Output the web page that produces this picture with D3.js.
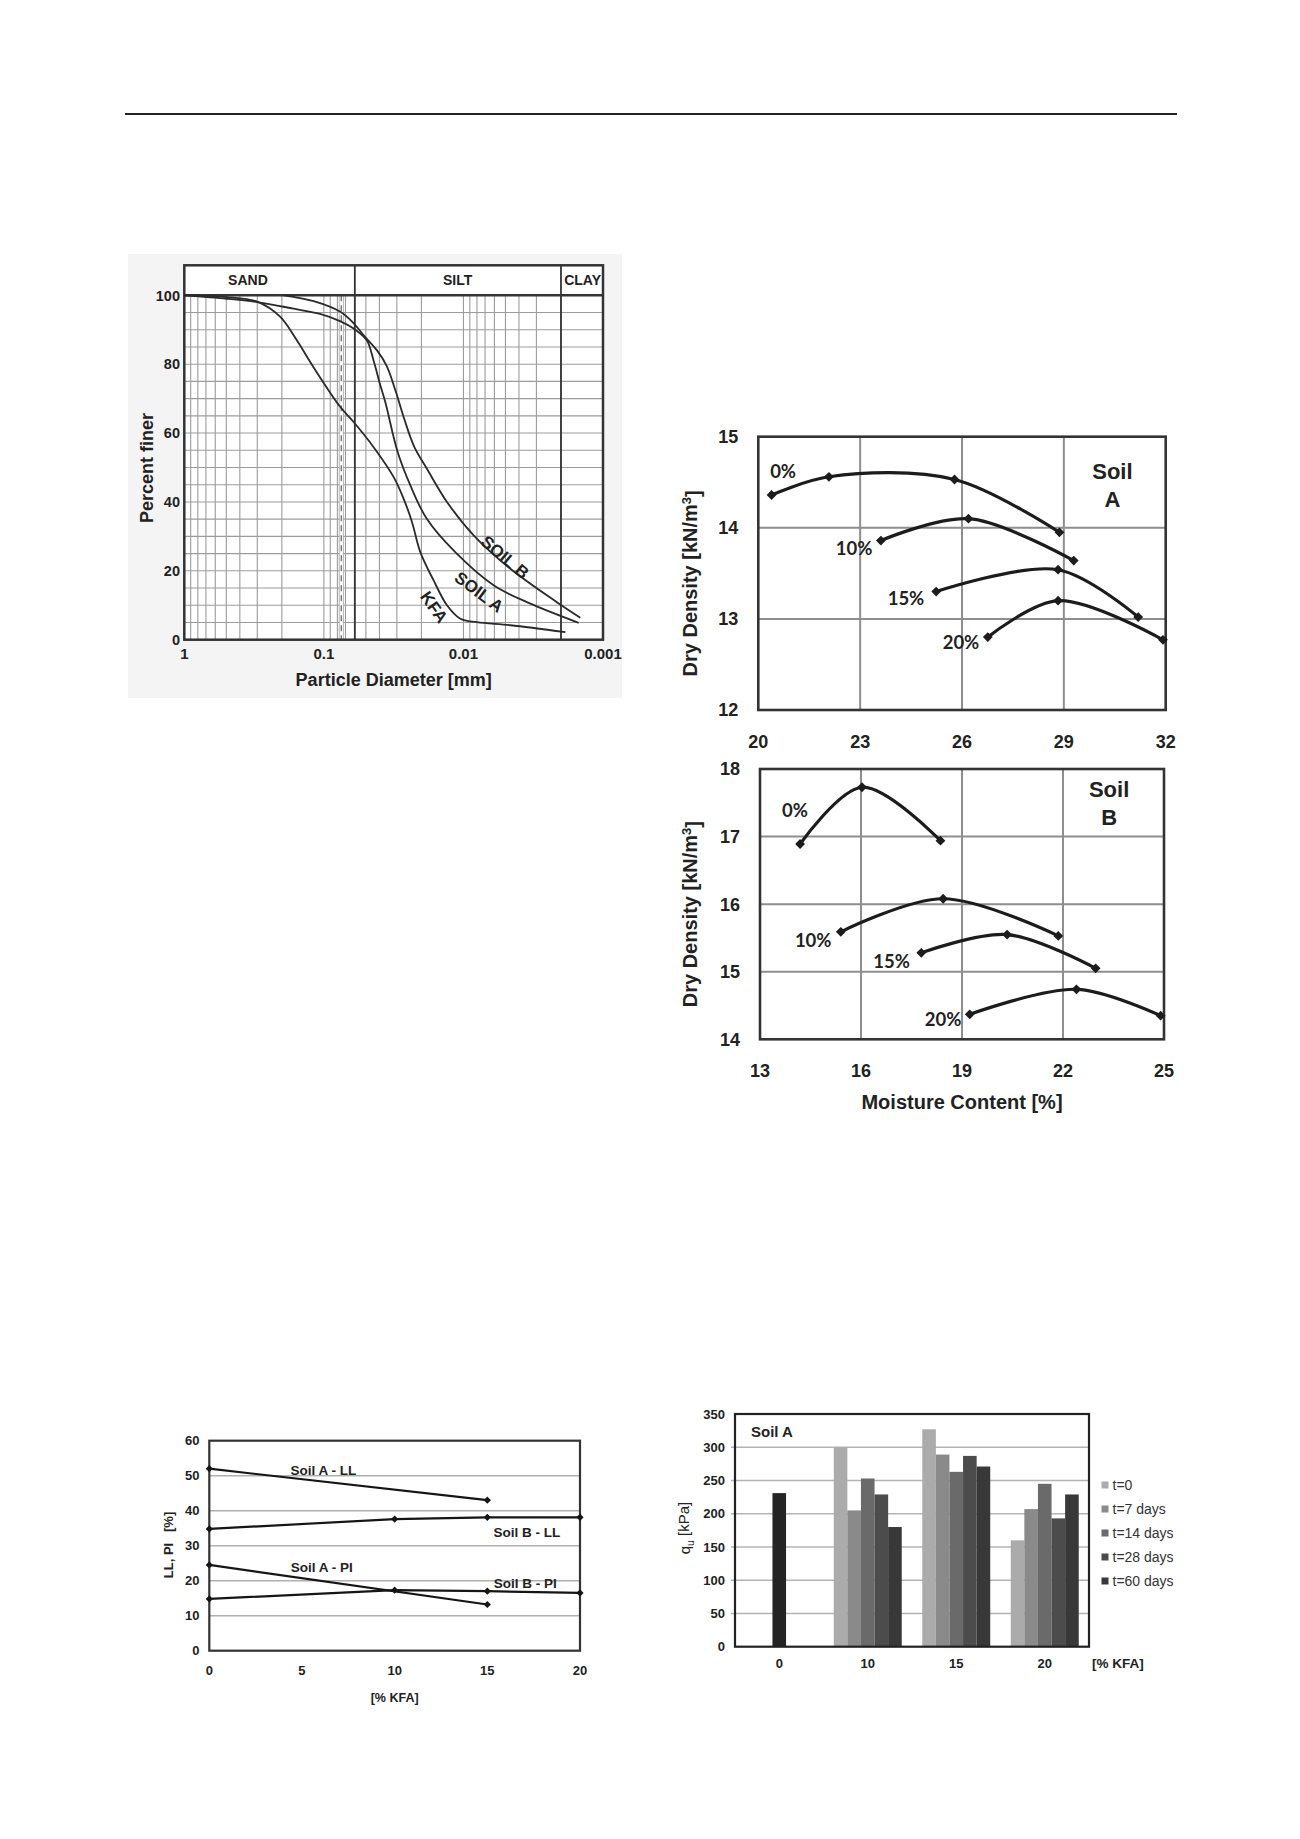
<!DOCTYPE html>
<html><head><meta charset="utf-8">
<script src="https://cdn.jsdelivr.net/npm/d3@7"></script>
<style>body{margin:0;background:#fff;} svg text{font-family:"Liberation Sans",Arial,sans-serif;fill:#222;}</style>
</head><body>
<svg id="c" width="1300" height="1839"></svg>
<script>
// ================= DATA =================
// Grain size distribution: [diameter mm, percent finer]
const grainSoilA = [[1.0,100],[0.4945,99.0],[0.2853,97.9],[0.1646,96.1],[0.1066,94.6],[0.0767,92.5],[0.0616,90.4],[0.0494,87.0],[0.0440,81.0],[0.0395,74.0],[0.0363,69.0],[0.0296,54.5],[0.024,44.8],[0.0183,35.1],[0.01144,25.4],[0.00608,15.8],[0.00351,10.9],[0.001495,4.9]];
const grainSoilB = [[0.194,100],[0.1184,98.3],[0.0762,95.2],[0.0616,92.0],[0.0509,88.0],[0.0416,84.0],[0.0355,79.5],[0.0305,72.0],[0.0265,64.0],[0.0225,56.0],[0.0183,49.7],[0.01312,40.0],[0.00845,30.3],[0.00461,20.6],[0.00214,10.9],[0.001454,6.4]];
const grainKFA = [[1.0,100],[0.4945,99.5],[0.298,98.1],[0.206,93.8],[0.1566,87.0],[0.119,79.2],[0.0767,67.7],[0.0612,63.2],[0.044,55.9],[0.0316,47.2],[0.0268,40.9],[0.02337,34.2],[0.0204,25.5],[0.01635,17.2],[0.01312,10.0],[0.01053,6.1],[0.008,5.1],[0.00461,4.2],[0.00186,2.2]];
const grainCurveNames = ["SOIL B","SOIL A","KFA"];
const grainLabelAt = [[0.00502,24.0,40],[0.0077,13.9,37],[0.0162,9.5,55]];
const grainTicksX = [1,0.1,0.01,0.001];
const grainTicksXText = ["1","0.1","0.01","0.001"];
const grainTicksY = [0,20,40,60,80,100];
const soilClasses = ["SAND","SILT","CLAY"];
const classLabelAt = [0.35,0.011,0.0014];
const classBounds = [0.06,0.002];
const sieveLine = 0.075;

// Compaction curves
const kfaLabels = ["0%","10%","15%","20%"];
const soilA_moisture = [[20.39,22.08,25.78,28.87],[23.61,26.19,29.29],[25.24,28.83,31.19],[26.76,28.83,31.92]];
const soilA_density  = [[14.36,14.56,14.53,13.95],[13.86,14.10,13.64],[13.30,13.54,13.02],[12.80,13.20,12.77]];
const soilA_labelAt  = [[20.73,14.62],[22.82,13.78],[24.35,13.23],[25.97,12.74]];
const soilB_moisture = [[14.19,16.03,18.36],[15.40,18.44,21.86],[17.79,20.34,22.97],[19.23,22.40,24.90]];
const soilB_density  = [[16.89,17.73,16.94],[15.59,16.08,15.53],[15.28,15.55,15.05],[14.37,14.74,14.35]];
const soilB_labelAt  = [[14.04,17.39],[14.58,15.47],[16.91,15.16],[18.44,14.29]];
const soilA_xTicks = [20,23,26,29,32];
const soilA_yTicks = [12,13,14,15];
const soilB_xTicks = [13,16,19,22,25];
const soilB_yTicks = [14,15,16,17,18];

// Atterberg limits vs % KFA
const kfaPercent = [0,5,10,15,20];
const llSoilA_x = [0,15],        llSoilA_y = [52,43];
const llSoilB_x = [0,10,15,20],  llSoilB_y = [34.8,37.6,38.1,38.1];
const piSoilA_x = [0,15],        piSoilA_y = [24.5,13.2];
const piSoilB_x = [0,10,15,20],  piSoilB_y = [14.8,17.3,17.0,16.5];
const limitNames = ["Soil A - LL","Soil B - LL","Soil A - PI","Soil B - PI"];
const limitLabelAt = [[6.15,51.6],[17.13,34.0],[6.07,23.8],[17.05,19.2]];
const limitTicksY = [0,10,20,30,40,50,60];

// Unconfined compressive strength, Soil A
const quCategories = ["0","10","15","20"];
const curingTimes = ["t=0","t=7 days","t=14 days","t=28 days","t=60 days"];
const qu_t0  = [null,300,327,160];
const qu_t7  = [null,205,289,207];
const qu_t14 = [null,253,263,245];
const qu_t28 = [null,229,287,193];
const qu_t60 = [null,180,271,229];
const qu_untreated = [231,null,null,null];
const quTicks = [0,50,100,150,200,250,300,350];
const curingColors = ["#ababab","#8a8a8a","#6a6a6a","#4c4c4c","#383838"];

// ================= DRAW =================
const svg = d3.select("#c");
svg.append("rect").attr("width",1300).attr("height",1839).attr("fill","#fff");
svg.append("line").attr("x1",125).attr("x2",1177).attr("y1",114).attr("y2",114)
  .attr("stroke","#222").attr("stroke-width",2.2);

const diamond = size => d3.symbol(d3.symbolSquare, size);

// ---------- Grain size chart ----------
(function(){
  const L=184.3,R=603,T=295.3,B=639.7,HT=265.3;
  svg.append("rect").attr("x",128).attr("y",254).attr("width",494).attr("height",444).attr("fill","#f4f4f4");
  svg.append("rect").attr("x",L).attr("y",HT).attr("width",R-L).attr("height",B-HT).attr("fill","#fff");
  const x=d3.scaleLog().domain([1,0.001]).range([L,R]);
  const y=d3.scaleLinear().domain([0,100]).range([B,T]);
  const g=svg.append("g");
  const minor=[];
  [-1,-2,-3].forEach(k=>{for(let m=1;m<=9;m++) minor.push(m*Math.pow(10,k));});
  g.selectAll(".vg").data(minor).join("line")
    .attr("x1",d=>x(d)).attr("x2",d=>x(d)).attr("y1",T).attr("y2",B)
    .attr("stroke","#9c9c9c").attr("stroke-width",1.1);
  g.selectAll(".hg").data(d3.range(5,100,5)).join("line")
    .attr("x1",L).attr("x2",R).attr("y1",d=>y(d)).attr("y2",d=>y(d))
    .attr("stroke","#9c9c9c").attr("stroke-width",1.1);
  const xs=x(sieveLine);
  g.append("line").attr("x1",xs-2).attr("x2",xs-2).attr("y1",T).attr("y2",B).attr("stroke","#aaa").attr("stroke-width",1);
  g.append("line").attr("x1",xs+2).attr("x2",xs+2).attr("y1",T).attr("y2",B).attr("stroke","#aaa").attr("stroke-width",1);
  g.append("line").attr("x1",xs).attr("x2",xs).attr("y1",T).attr("y2",B).attr("stroke","#fff").attr("stroke-width",3);
  g.append("line").attr("x1",xs).attr("x2",xs).attr("y1",T).attr("y2",B).attr("stroke","#777").attr("stroke-width",1.4).attr("stroke-dasharray","6,4");
  g.selectAll(".cb").data(classBounds).join("line")
    .attr("x1",d=>x(d)).attr("x2",d=>x(d)).attr("y1",HT).attr("y2",B)
    .attr("stroke","#333").attr("stroke-width",1.8);
  g.append("rect").attr("x",L).attr("y",HT).attr("width",R-L).attr("height",B-HT)
    .attr("fill","none").attr("stroke","#333").attr("stroke-width",2.5);
  g.append("line").attr("x1",L).attr("x2",R).attr("y1",T).attr("y2",T).attr("stroke","#333").attr("stroke-width",2.5);
  g.selectAll(".cl").data(soilClasses).join("text")
    .attr("x",(d,i)=>x(classLabelAt[i])).attr("y",(HT+T)/2).attr("dy","0.36em")
    .attr("text-anchor","middle").attr("font-weight","bold").attr("font-size",14).text(d=>d);
  const line=d3.line().x(d=>x(d[0])).y(d=>y(d[1])).curve(d3.curveCatmullRom.alpha(0.5));
  [grainSoilB,grainSoilA,grainKFA].forEach(s=>{
    g.append("path").attr("d",line(s)).attr("fill","none").attr("stroke","#2a2a2a").attr("stroke-width",1.8);
  });
  grainCurveNames.forEach((n,i)=>{
    const p=grainLabelAt[i];
    g.append("text").attr("transform",`translate(${x(p[0])},${y(p[1])}) rotate(${p[2]})`)
      .attr("text-anchor","middle").attr("dy","0.36em").attr("font-weight","bold").attr("font-size",17).text(n);
  });
  g.selectAll(".tx").data(grainTicksX).join("text")
    .attr("x",d=>x(d)).attr("y",654).attr("dy","0.36em").attr("text-anchor","middle")
    .attr("font-weight","bold").attr("font-size",15).text((d,i)=>grainTicksXText[i]);
  g.selectAll(".ty").data(grainTicksY).join("text")
    .attr("x",180).attr("y",d=>y(d)).attr("dy","0.36em").attr("text-anchor","end")
    .attr("font-weight","bold").attr("font-size",14.5).text(d=>d);
  g.append("text").attr("x",(L+R)/2).attr("y",680).attr("dy","0.36em").attr("text-anchor","middle")
    .attr("font-weight","bold").attr("font-size",18).text("Particle Diameter [mm]");
  g.append("text").attr("transform","translate(147,468) rotate(-90)").attr("dy","0.36em").attr("text-anchor","middle")
    .attr("font-weight","bold").attr("font-size",18).text("Percent finer");
})();

// ---------- Compaction charts ----------
function compaction(o){
  const x=d3.scaleLinear().domain(o.xd).range([o.L,o.R]);
  const y=d3.scaleLinear().domain(o.yd).range([o.B,o.T]);
  const g=svg.append("g");
  g.selectAll(".vg").data(o.xt.slice(1,-1)).join("line")
    .attr("x1",d=>x(d)).attr("x2",d=>x(d)).attr("y1",o.T).attr("y2",o.B).attr("stroke","#8e8e8e").attr("stroke-width",2);
  g.selectAll(".hg").data(o.yt.slice(1,-1)).join("line")
    .attr("x1",o.L).attr("x2",o.R).attr("y1",d=>y(d)).attr("y2",d=>y(d)).attr("stroke","#8e8e8e").attr("stroke-width",2);
  g.append("rect").attr("x",o.L).attr("y",o.T).attr("width",o.R-o.L).attr("height",o.B-o.T)
    .attr("fill","none").attr("stroke","#333").attr("stroke-width",2.6);
  const line=d3.line().x(d=>x(d[0])).y(d=>y(d[1])).curve(d3.curveCatmullRom.alpha(0.5));
  o.w.forEach((ws,i)=>{
    const pts=ws.map((v,j)=>[v,o.gd[i][j]]);
    g.append("path").attr("d",line(pts)).attr("fill","none").attr("stroke","#1c1c1c").attr("stroke-width",3.2);
    g.selectAll(null).data(pts).join("path").attr("d",diamond(48))
      .attr("transform",d=>`translate(${x(d[0])},${y(d[1])}) rotate(45)`).attr("fill","#1c1c1c");
    g.append("text").attr("x",x(o.lab[i][0])).attr("y",y(o.lab[i][1])).attr("dy","0.36em").attr("text-anchor","middle")
      .style("font-family","Lato,'Open Sans',sans-serif").attr("font-weight","bold").attr("font-size",18.5).text(kfaLabels[i]);
  });
  g.append("text").attr("x",x(o.soil[0])).attr("y",y(o.soil[1])).attr("dy","0.36em").attr("text-anchor","middle")
    .attr("font-weight","bold").attr("font-size",22).text("Soil");
  g.append("text").attr("x",x(o.soil[0])).attr("y",y(o.soil[1])+27.5).attr("dy","0.36em").attr("text-anchor","middle")
    .attr("font-weight","bold").attr("font-size",22).text(o.name);
  g.selectAll(".tx").data(o.xt).join("text").attr("x",d=>x(d)).attr("y",o.B+31.5).attr("dy","0.36em")
    .attr("text-anchor","middle").attr("font-weight","bold").attr("font-size",18).text(d=>d);
  g.selectAll(".ty").data(o.yt).join("text").attr("x",o.L-20).attr("y",d=>y(d)).attr("dy","0.36em")
    .attr("text-anchor","end").attr("font-weight","bold").attr("font-size",18).text(d=>d);
  const yt=g.append("text").attr("transform",`translate(690,${(o.T+o.B)/2+10}) rotate(-90)`).attr("dy","0.36em")
    .attr("text-anchor","middle").attr("font-weight","bold").attr("font-size",20);
  yt.append("tspan").text("Dry Density [kN/m");
  yt.append("tspan").attr("dy","-0.45em").attr("font-size",13).text("3");
  yt.append("tspan").attr("dy","0.45em").text("]");
  if(o.xtitle){
    g.append("text").attr("x",(o.L+o.R)/2).attr("y",o.B+62.5).attr("dy","0.36em").attr("text-anchor","middle")
      .attr("font-weight","bold").attr("font-size",20).text(o.xtitle);
  }
}
compaction({L:758.3,R:1165.7,T:436.7,B:710,xd:[20,32],yd:[12,15],xt:soilA_xTicks,yt:soilA_yTicks,
  w:soilA_moisture,gd:soilA_density,lab:soilA_labelAt,soil:[30.43,14.62],name:"A"});
compaction({L:760,R:1164,T:769,B:1039.3,xd:[13,25],yd:[14,18],xt:soilB_xTicks,yt:soilB_yTicks,
  w:soilB_moisture,gd:soilB_density,lab:soilB_labelAt,soil:[23.37,17.70],name:"B",xtitle:"Moisture Content [%]"});

// ---------- Atterberg limits chart ----------
(function(){
  const L=209.3,R=580,T=1440.7,B=1650.7;
  const x=d3.scaleLinear().domain([0,20]).range([L,R]);
  const y=d3.scaleLinear().domain([0,60]).range([B,T]);
  const g=svg.append("g");
  g.selectAll(".hg").data(limitTicksY.slice(1,-1)).join("line")
    .attr("x1",L).attr("x2",R).attr("y1",d=>y(d)).attr("y2",d=>y(d)).attr("stroke","#b0b0b0").attr("stroke-width",1.5);
  g.append("rect").attr("x",L).attr("y",T).attr("width",R-L).attr("height",B-T)
    .attr("fill","none").attr("stroke","#333").attr("stroke-width",2.2);
  const line=d3.line().x(d=>x(d[0])).y(d=>y(d[1]));
  [[llSoilA_x,llSoilA_y],[llSoilB_x,llSoilB_y],[piSoilA_x,piSoilA_y],[piSoilB_x,piSoilB_y]].forEach(s=>{
    const pts=s[0].map((v,j)=>[v,s[1][j]]);
    g.append("path").attr("d",line(pts)).attr("fill","none").attr("stroke","#151515").attr("stroke-width",2.2);
    g.selectAll(null).data(pts).join("path").attr("d",diamond(26))
      .attr("transform",d=>`translate(${x(d[0])},${y(d[1])}) rotate(45)`).attr("fill","#151515");
  });
  limitNames.forEach((n,i)=>{
    g.append("text").attr("x",x(limitLabelAt[i][0])).attr("y",y(limitLabelAt[i][1])).attr("dy","0.36em")
      .attr("text-anchor","middle").attr("font-weight","bold").attr("font-size",13.5).text(n);
  });
  g.selectAll(".tx").data(kfaPercent).join("text").attr("x",d=>x(d)).attr("y",1670).attr("dy","0.36em")
    .attr("text-anchor","middle").attr("font-weight","bold").attr("font-size",13).text(d=>d);
  g.selectAll(".ty").data(limitTicksY).join("text").attr("x",199.5).attr("y",d=>y(d)).attr("dy","0.36em")
    .attr("text-anchor","end").attr("font-weight","bold").attr("font-size",13).text(d=>d);
  g.append("text").attr("x",(L+R)/2).attr("y",1697).attr("dy","0.36em").attr("text-anchor","middle")
    .attr("font-weight","bold").attr("font-size",12.5).text("[% KFA]");
  g.append("text").attr("transform","translate(168,1545) rotate(-90)").attr("dy","0.36em").attr("text-anchor","middle")
    .attr("font-weight","bold").attr("font-size",13).attr("xml:space","preserve").style("white-space","pre").text("LL, PI   [%]");
})();

// ---------- UCS bar chart ----------
(function(){
  const L=735,R=1089,T=1414,B=1646.7;
  const x=d3.scaleBand().domain(quCategories).range([L,R]).padding(0);
  const xs=d3.scaleBand().domain(curingTimes).range([0,x.bandwidth()]).paddingInner(0).paddingOuter(0.755);
  const y=d3.scaleLinear().domain([0,350]).range([B,T]);
  const g=svg.append("g");
  g.selectAll(".hg").data(quTicks.slice(1,-1)).join("line")
    .attr("x1",L-4).attr("x2",R).attr("y1",d=>y(d)).attr("y2",d=>y(d)).attr("stroke","#b4b4b4").attr("stroke-width",1.4);
  const series=[qu_t0,qu_t7,qu_t14,qu_t28,qu_t60];
  series.forEach((vals,si)=>{
    g.selectAll(null).data(quCategories.map((c,ci)=>({c,v:vals[ci]})).filter(d=>d.v!=null)).join("rect")
      .attr("x",d=>x(d.c)+xs(curingTimes[si])).attr("width",xs.bandwidth())
      .attr("y",d=>y(d.v)).attr("height",d=>B-y(d.v)).attr("fill",curingColors[si]);
  });
  g.selectAll(null).data(quCategories.map((c,ci)=>({c,v:qu_untreated[ci]})).filter(d=>d.v!=null)).join("rect")
    .attr("x",d=>x(d.c)+x.bandwidth()/2-xs.bandwidth()/2).attr("width",xs.bandwidth())
    .attr("y",d=>y(d.v)).attr("height",d=>B-y(d.v)).attr("fill","#242424");
  g.append("rect").attr("x",L).attr("y",T).attr("width",R-L).attr("height",B-T)
    .attr("fill","none").attr("stroke","#222").attr("stroke-width",2.2);
  g.append("text").attr("x",751).attr("y",1432).attr("dy","0.36em").attr("font-weight","bold").attr("font-size",15).text("Soil A");
  g.selectAll(".ty").data(quTicks).join("text").attr("x",725).attr("y",d=>y(d)).attr("dy","0.36em")
    .attr("text-anchor","end").attr("font-weight","bold").attr("font-size",13).text(d=>d);
  g.selectAll(".tx").data(quCategories).join("text").attr("x",d=>x(d)+x.bandwidth()/2).attr("y",1663.5).attr("dy","0.36em")
    .attr("text-anchor","middle").attr("font-weight","bold").attr("font-size",13).text(d=>d);
  g.append("text").attr("x",1092).attr("y",1663.5).attr("dy","0.36em").attr("font-weight","bold").attr("font-size",13.5).text("[% KFA]");
  const yt=g.append("text").attr("transform","translate(685,1528) rotate(-90)").attr("dy","0.36em")
    .attr("text-anchor","middle").attr("font-size",15);
  yt.append("tspan").text("q");
  yt.append("tspan").attr("dy","0.3em").attr("font-size",10.5).text("u");
  yt.append("tspan").attr("dy","-0.3em").text(" [kPa]");
  const lg=g.append("g");
  curingTimes.forEach((t,i)=>{
    const yy=1485+i*24;
    lg.append("rect").attr("x",1101.5).attr("y",yy-3.5).attr("width",7).attr("height",7).attr("fill",curingColors[i]);
    lg.append("text").attr("x",1112.5).attr("y",yy).attr("dy","0.36em").attr("font-size",14).style("fill","#333").text(t);
  });
})();
</script>
</body></html>
